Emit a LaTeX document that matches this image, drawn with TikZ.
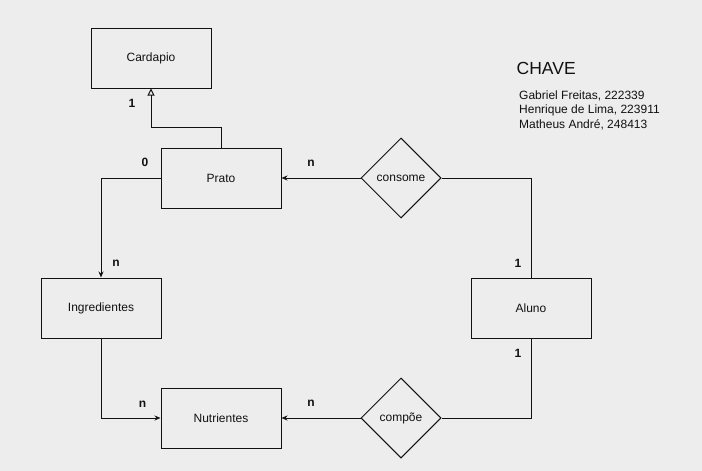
\documentclass[tikz,border=0pt]{standalone}
\usepackage{fontspec}
\setmainfont{Liberation Sans}
\usetikzlibrary{arrows.meta,shapes.geometric}
\definecolor{bgc}{HTML}{EDEDED}
\definecolor{ink}{HTML}{111111}
\begin{document}
\begin{tikzpicture}[x=1pt,y=-1pt,
  entity/.style={draw=ink,line width=1pt,minimum width=120pt,minimum height=60pt,inner sep=0pt,font=\fontsize{12}{14}\selectfont,text=ink},
  rel/.style={draw=ink,line width=1pt,diamond,shape aspect=1,minimum width=80pt,minimum height=80pt,inner sep=0pt,font=\fontsize{12}{14}\selectfont,text=ink},
  card/.style={font=\bfseries\fontsize{12}{14}\selectfont,text=ink,inner sep=0pt},
  conn/.style={draw=ink,line width=1pt},
  arr/.style={conn,-{Stealth[length=6pt,width=5pt]}},
  inh/.style={conn,-{Triangle[open,length=7pt,width=7pt]}}
]
\path[fill=bgc] (0,0) rectangle (702,471);
\useasboundingbox (0,0) rectangle (702,471);

\node[entity] (cardapio) at (151,58) {Cardapio};
\node[entity] (prato) at (221,178) {Prato};
\node[entity] (ingred) at (101,308) {Ingredientes};
\node[entity] (nutri) at (221,418) {Nutrientes};
\node[entity] (aluno) at (531,308) {Aluno};
\node[rel] (consome) at (401,178) {consome};
\node[rel] (compoe) at (401,418) {compõe};

\coordinate (c1) at (221.5,127);
\coordinate (c2) at (151,127);
\draw[inh] (prato.north -| c1) -- (c1) -- (c2) -- (cardapio.south);
\draw[arr] (prato.west) -- (ingred.north |- prato.west) -- (ingred.north);
\draw[arr] (ingred.south) -- (ingred.south |- nutri.west) -- (nutri.west);
\draw[arr] (consome.west) -- (prato.east);
\draw[conn] (consome.east) -- (aluno.north |- consome.east) -- (aluno.north);
\draw[conn] (aluno.south) -- (aluno.south |- compoe.east) -- (compoe.east);
\draw[arr] (compoe.west) -- (nutri.east);

\node[card] (l1) at (132,103) {1};
\node[card] (l0) at (145,162) {0};
\node[card] (ln1) at (116,263) {n};
\node[card] (ln2) at (142.5,404) {n};
\node[card] (ln3) at (311,163) {n};
\node[card] (ln4) at (311,403) {n};
\node[card] (la1) at (518,263) {1};
\node[card] (la2) at (518,353) {1};

\node[anchor=west,inner sep=0pt,text=ink,font=\fontsize{17.5}{20}\selectfont] (chave) at (516.5,68) {CHAVE};
\node[anchor=north west,inner sep=0pt,text=ink,align=left,font=\fontsize{12}{14.5}\selectfont] (names) at (519,90.5) {Gabriel Freitas, 222339\\Henrique de Lima, 223911\\Matheus André, 248413};
\end{tikzpicture}
\end{document}
